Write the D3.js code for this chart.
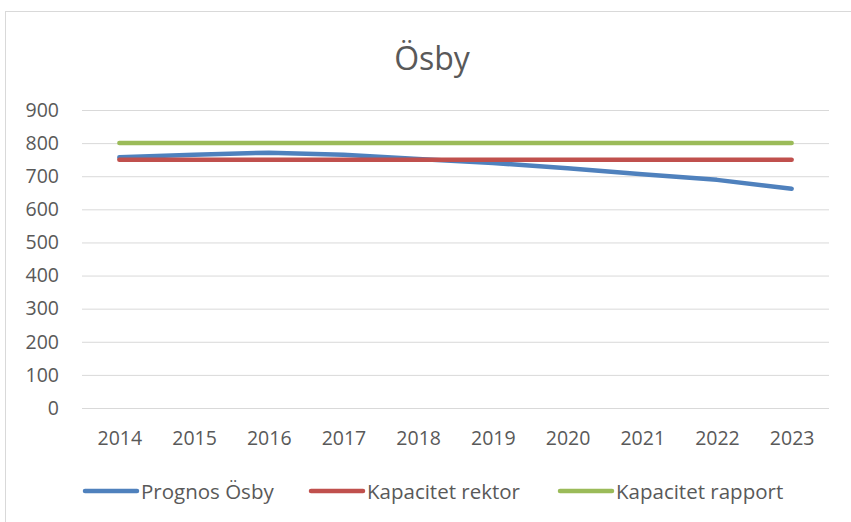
<!DOCTYPE html>
<html>
<head>
<meta charset="utf-8">
<script src="https://cdn.jsdelivr.net/npm/d3@7"></script>
<style>
  body { margin: 0; background: white; }
  text { font-family: "Open Sans", sans-serif; fill: #595959; }
</style>
</head>
<body>
<div id="canvas"></div>
<script>
"use strict"

/* data */
let years = ["2014", "2015", "2016", "2017", "2018", "2019", "2020", "2021", "2022", "2023"];
let prognosOsby = [757, 765, 771, 765, 752, 740, 724, 706, 689, 662];
let kapacitetRektor = [750, 750, 750, 750, 750, 750, 750, 750, 750, 750];
let kapacitetRapport = [800, 800, 800, 800, 800, 800, 800, 800, 800, 800];
let yTicks = [0, 100, 200, 300, 400, 500, 600, 700, 800, 900];

let seriesNames = ["Prognos Ösby", "Kapacitet rektor", "Kapacitet rapport"];
let seriesValues = [prognosOsby, kapacitetRektor, kapacitetRapport];
let seriesColors = ["#4F81BD", "#C0504D", "#9BBB59"];

/* svg */
let drawing = d3.select("#canvas")
    .append("svg")
    .attr("width", 851)
    .attr("height", 522);

/* chart border */
let border = drawing.append("rect")
    .attr("x", 5.5)
    .attr("y", 11.5)
    .attr("width", 900)
    .attr("height", 600)
    .attr("fill", "white")
    .attr("stroke", "#D9D9D9");

/* scales */
let x = d3.scalePoint()
    .domain(years)
    .range([82, 829])
    .padding(0.5);

let y = d3.scaleLinear()
    .domain([0, 900])
    .range([408, 110]);

/* title */
let title = drawing.append("text")
    .attr("x", 432)
    .attr("y", 57)
    .attr("text-anchor", "middle")
    .attr("dominant-baseline", "central")
    .style("font-size", "32px")
    .text("Ösby");

/* y axis with gridlines */
let yAxis = drawing.append("g")
    .attr("transform", "translate(82,0)")
    .call(d3.axisLeft(y).tickValues(yTicks).tickSize(-747).tickPadding(23));

yAxis.select(".domain").remove();
yAxis.selectAll("line")
    .attr("stroke", "#D9D9D9")
    .attr("stroke-width", 1);
yAxis.selectAll("text")
    .style("font-size", "19.5px")
    .style("font-family", "'Open Sans', sans-serif")
    .attr("fill", "#595959");

/* x axis */
let xAxis = drawing.append("g")
    .attr("transform", "translate(0,408)")
    .call(d3.axisBottom(x).tickSize(0).tickPadding(23));

xAxis.select(".domain").remove();
xAxis.selectAll("text")
    .style("font-size", "19.5px")
    .style("font-family", "'Open Sans', sans-serif")
    .attr("fill", "#595959");

/* lines */
let line = d3.line()
    .x((d, i) => x(years[i]))
    .y(d => y(d));

seriesValues.forEach(function (values, k) {
    drawing.append("path")
        .datum(values)
        .attr("d", line)
        .attr("fill", "none")
        .attr("stroke", seriesColors[k])
        .attr("stroke-width", 4.5)
        .attr("stroke-linecap", "round")
        .attr("stroke-linejoin", "round");
});

/* legend */
let legendX = [85, 311, 560];
let legend = drawing.append("g");

seriesNames.forEach(function (name, k) {
    legend.append("line")
        .attr("x1", legendX[k])
        .attr("x2", legendX[k] + 52)
        .attr("y1", 491)
        .attr("y2", 491)
        .attr("stroke", seriesColors[k])
        .attr("stroke-width", 4.5)
        .attr("stroke-linecap", "round");
    legend.append("text")
        .attr("x", legendX[k] + 56)
        .attr("y", 491)
        .attr("dominant-baseline", "central")
        .style("font-size", "20.5px")
        .text(name);
});
</script>
</body>
</html>
